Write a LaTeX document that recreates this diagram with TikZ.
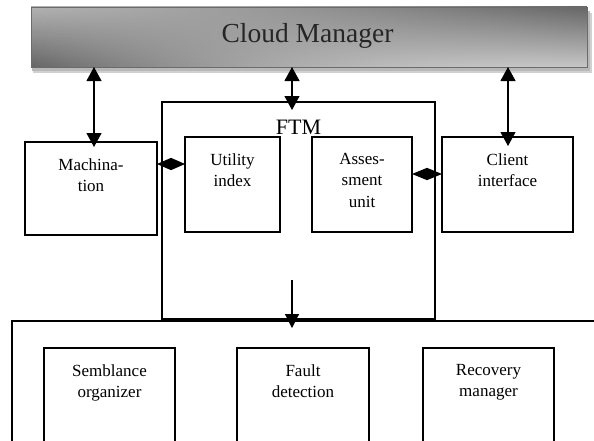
\documentclass[tikz,border=0pt]{standalone}
\usepackage{fontspec}
\setmainfont{Liberation Serif}
\usetikzlibrary{arrows.meta,fadings}

% masks that keep the bar's left and right end shadings local
\tikzfading[name=barleft, left color=transparent!0, middle color=transparent!100, right color=transparent!100]
\tikzfading[name=barright, left color=transparent!100, middle color=transparent!100, right color=transparent!0]

\begin{document}
\begin{tikzpicture}[x=1pt,y=-1pt,
  box/.style={draw=black, line width=1.1pt, inner sep=0pt, outer sep=0pt, fill=white},
  lbl/.style={font=\fontsize{17}{21.5}\selectfont, align=center, inner sep=0pt, anchor=north},
  dbl/.style={line width=1.1pt,
    {Triangle[length=14pt,width=15pt]}-{Triangle[length=14pt,width=15pt]}},
  down/.style={line width=1.1pt, -{Triangle[length=14pt,width=14pt]}},
  diaL/.style={line width=1.1pt,
    {Triangle[length=14pt,width=12pt]}-{Triangle[length=14pt,width=12pt]}},
  diaR/.style={line width=1.1pt,
    {Triangle[length=15pt,width=12pt]}-{Triangle[length=15pt,width=12pt]}}]

\useasboundingbox (0,0) rectangle (594,440);
\clip (0,0) rectangle (594,440);
\fill[white] (0,0) rectangle (594,440);

% top bar: soft shadow, light middle, darker ends, grey rim
\path node[inner sep=0pt, outer sep=0pt, minimum width=556pt, minimum height=60pt] (cloud) at (309,37) {};
\fill[black!18] ([xshift=2pt,yshift=-6pt]cloud.north west) rectangle ([xshift=5pt,yshift=-6pt]cloud.south east);
\fill[black!28] ([xshift=1pt,yshift=-4pt]cloud.north west) rectangle ([xshift=3pt,yshift=-4pt]cloud.south east);
\fill[black!19] (cloud.north west) rectangle (cloud.south east);
\shade[top color=black!30, bottom color=black!60, path fading=barleft]
  (cloud.north west) rectangle (cloud.south east);
\shade[top color=black!60, bottom color=black!22, path fading=barright]
  (cloud.north west) rectangle (cloud.south east);
\draw[black!58, line width=1pt] (cloud.north west) rectangle (cloud.south east);
\node[font=\fontsize{27.5}{32}\selectfont, inner sep=0pt, text=black!85] (cloudT) at (307.5,36) {Cloud Manager};

% FTM block with its two inner units
\node[box, minimum width=273pt, minimum height=217pt] (ftm) at (298.5,210.5) {};
\node[font=\fontsize{22}{26}\selectfont, inner sep=0pt] (ftmT) at (298.5,127) {FTM};

\node[box, minimum width=95pt,  minimum height=95pt] (util)   at (232.5,184.5) {};
\node[box, minimum width=100pt, minimum height=95pt] (assess) at (362,184.5) {};

% side blocks
\node[box, minimum width=132pt, minimum height=93pt] (mach)   at (91,188.5) {};
\node[box, minimum width=131pt, minimum height=95pt] (client) at (507.5,184.5) {};

% lower block and its three units
\node[box, minimum width=608pt, minimum height=149pt] (lower) at (316,395.5) {};
\node[box, minimum width=131pt, minimum height=122pt] (sembl) at (109.5,409) {};
\node[box, minimum width=132pt, minimum height=122pt] (fault) at (303,409) {};
\node[box, minimum width=131pt, minimum height=122pt] (recov) at (488.5,409) {};

% labels
\node[lbl] (machT)   at ([yshift=-16pt]mach.north)   {Machina-\\tion};
\node[lbl] (utilT)   at ([yshift=-16pt]util.north)   {Utility\\index};
\node[lbl] (assessT) at ([yshift=-16pt]assess.north) {Asses-\\sment\\unit};
\node[lbl] (clientT) at ([yshift=-16pt]client.north) {Client\\interface};
\node[lbl] (semblT)  at ([yshift=-16pt]sembl.north)  {Semblance\\organizer};
\node[lbl] (faultT)  at ([yshift=-16pt]fault.north)  {Fault\\detection};
\node[lbl] (recovT)  at ([yshift=-16pt]recov.north)  {Recovery\\manager};

% links to the manager bar
\draw[dbl, shorten >=-5pt]
  ([xshift=3pt]mach.north |- cloud.south) -- ([xshift=3pt]mach.north);
\draw[dbl, shorten >=-8pt]
  ([xshift=-6.5pt]ftm.north |- cloud.south) -- ([xshift=-6.5pt]ftm.north);
\draw[dbl, shorten >=-9pt]
  ([xshift=0.5pt]client.north |- cloud.south) -- ([xshift=0.5pt]client.north);

% side links into the FTM units
\draw[diaL] ([yshift=24.5pt]mach.east) -- ([yshift=24.5pt]mach.east -| util.west);
\draw[diaR] ([yshift=10.5pt]assess.east) -- ([yshift=10.5pt]assess.east -| client.west);

% FTM feeds the lower block
\coordinate (ftmdown) at ([xshift=-6.5pt,yshift=39pt]ftm.south);
\draw[down, shorten >=-7pt] (ftmdown) -- (ftmdown |- lower.north);
\end{tikzpicture}
\end{document}
